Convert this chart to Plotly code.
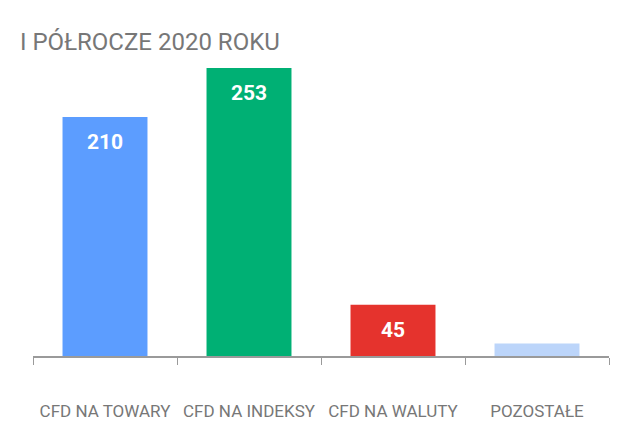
import plotly.graph_objects as go

categories = ["CFD NA TOWARY", "CFD NA INDEKSY", "CFD NA WALUTY", "POZOSTAŁE"]
values = [210, 253, 45, 11]
labels = ["210", "253", "45", "11"]
colors = ["#5C9DFF", "#00B074", "#E5332D", "#BCD5FA"]
title_text = "I PÓŁROCZE 2020 ROKU"

fig = go.Figure()
fig.add_trace(go.Bar(x=categories, y=values, marker=dict(color=colors, line=dict(width=0)),
                     hoverinfo="skip"))

for c, v, t in zip(categories, values, labels):
    fig.add_annotation(x=c, y=v, text=t, showarrow=False, yanchor="middle", yshift=-25,
                       font=dict(family="Roboto", size=21, color="white", weight="bold"))

fig.update_layout(
    width=618, height=421,
    margin=dict(l=25, r=17, t=52, b=73),
    paper_bgcolor="white", plot_bgcolor="white",
    showlegend=False,
    bargap=0.41,
    title=dict(text=title_text, x=12 / 618, xref="container", xanchor="left",
               y=1 - 34 / 421, yref="container", yanchor="middle", pad=dict(l=0, t=0),
               font=dict(family="Roboto", size=24, color="#777777")),
    xaxis=dict(showline=True, linecolor="#9a9a9a", linewidth=2, ticks="outside",
               tickson="boundaries", ticklen=7, tickcolor="#9a9a9a", tickwidth=1,
               tickangle=0, automargin=False,
               tickfont=dict(family="Roboto", size=17, color="#777777"),
               ticklabelstandoff=39, showgrid=False),
    yaxis=dict(range=[0, 260], visible=False, showgrid=False, automargin=False),
)

fig.write_html("out.html")
